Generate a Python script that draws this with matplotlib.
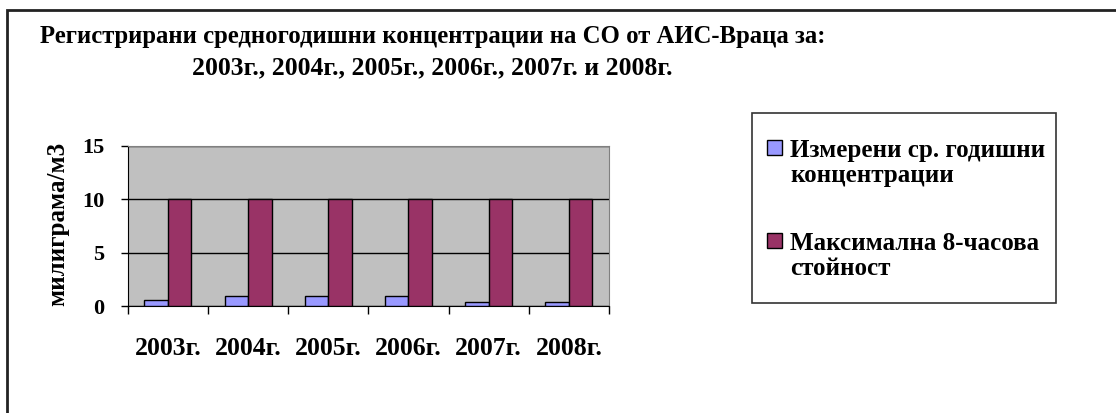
import numpy as np
import matplotlib.pyplot as plt
from matplotlib.patches import Rectangle

plt.rcParams['font.family'] = ['Liberation Serif', 'DejaVu Serif']
plt.rcParams['font.weight'] = 'bold'

years = ['2003г.', '2004г.', '2005г.', '2006г.', '2007г.', '2008г.']
measured = [0.6, 0.9, 0.9, 0.9, 0.4, 0.4]
max8h = [10, 10, 10, 10, 10, 10]
labels = ['Измерени ср. годишни\nконцентрации', 'Максимална 8-часова\nстойност']
colors = ['#9999FF', '#993366']

W, H = 1116, 413
fig = plt.figure(figsize=(W / 100, H / 100), dpi=100)

def fx(px):
    return px / W

def fy(py):
    return 1 - py / H

# outer chart frame (only top/left edges visible in the picture)
fig.patches.append(Rectangle((fx(7), -0.1), 1.2, fy(10) + 0.1, transform=fig.transFigure,
                             fill=False, edgecolor='#222222', linewidth=2))

ax = fig.add_axes([fx(127.7), fy(306), fx(609 - 127.7), (306 - 145.7) / H])
ax.set_facecolor('#C0C0C0')

x = np.arange(len(years))
bw = 0.293
ax.bar(x - bw / 2, measured, bw, color=colors[0], edgecolor='black', linewidth=1, zorder=3)
ax.bar(x + bw / 2, max8h, bw, color=colors[1], edgecolor='black', linewidth=1, zorder=3)

ax.set_xlim(-0.5, len(years) - 0.5)
ax.set_ylim(0, 15)
ax.set_yticks([0, 5, 10, 15])
ax.yaxis.grid(True, color='black', linewidth=1, zorder=1)
ax.set_axisbelow(True)
ax.tick_params(axis='y', direction='out', length=5, width=1, labelsize=16, pad=12)

ax.set_xticks(x)
ax.set_xticklabels(years, fontsize=18.5)
ax.set_xticks(np.arange(len(years) + 1) - 0.5, minor=True)
ax.tick_params(axis='x', which='major', length=0, pad=22)
ax.tick_params(axis='x', which='minor', direction='out', length=6, width=1)

for s in ['top', 'right']:
    ax.spines[s].set_color('#808080')
for s in ['left', 'bottom']:
    ax.spines[s].set_color('black')

fig.text(fx(58), fy(224), 'милиграма/м3', rotation=90, ha='center', va='center', fontsize=18)

fig.text(fx(40), fy(43), 'Регистрирани средногодишни концентрации на СО от АИС-Враца за:',
         ha='left', va='baseline', fontsize=17.8)
fig.text(fx(192), fy(74), '2003г., 2004г., 2005г., 2006г., 2007г. и 2008г.',
         ha='left', va='baseline', fontsize=18.5)

# legend box
fig.patches.append(Rectangle((fx(752), fy(303)), fx(1056 - 752), (303 - 113) / H,
                             transform=fig.transFigure, facecolor='white', edgecolor='#333333', linewidth=1.2))
for i, (lab, c) in enumerate(zip(labels, colors)):
    base = 157 + i * 93
    fig.patches.append(Rectangle((fx(767), fy(base - 2)), fx(15), 15 / H,
                                 transform=fig.transFigure, facecolor=c, edgecolor='black', linewidth=1))
    first, second = lab.split('\n')
    fig.text(fx(790), fy(base), first, ha='left', va='baseline', fontsize=18)
    fig.text(fx(790), fy(base + 25), second, ha='left', va='baseline', fontsize=18)

fig.savefig('out.png', dpi=100)
